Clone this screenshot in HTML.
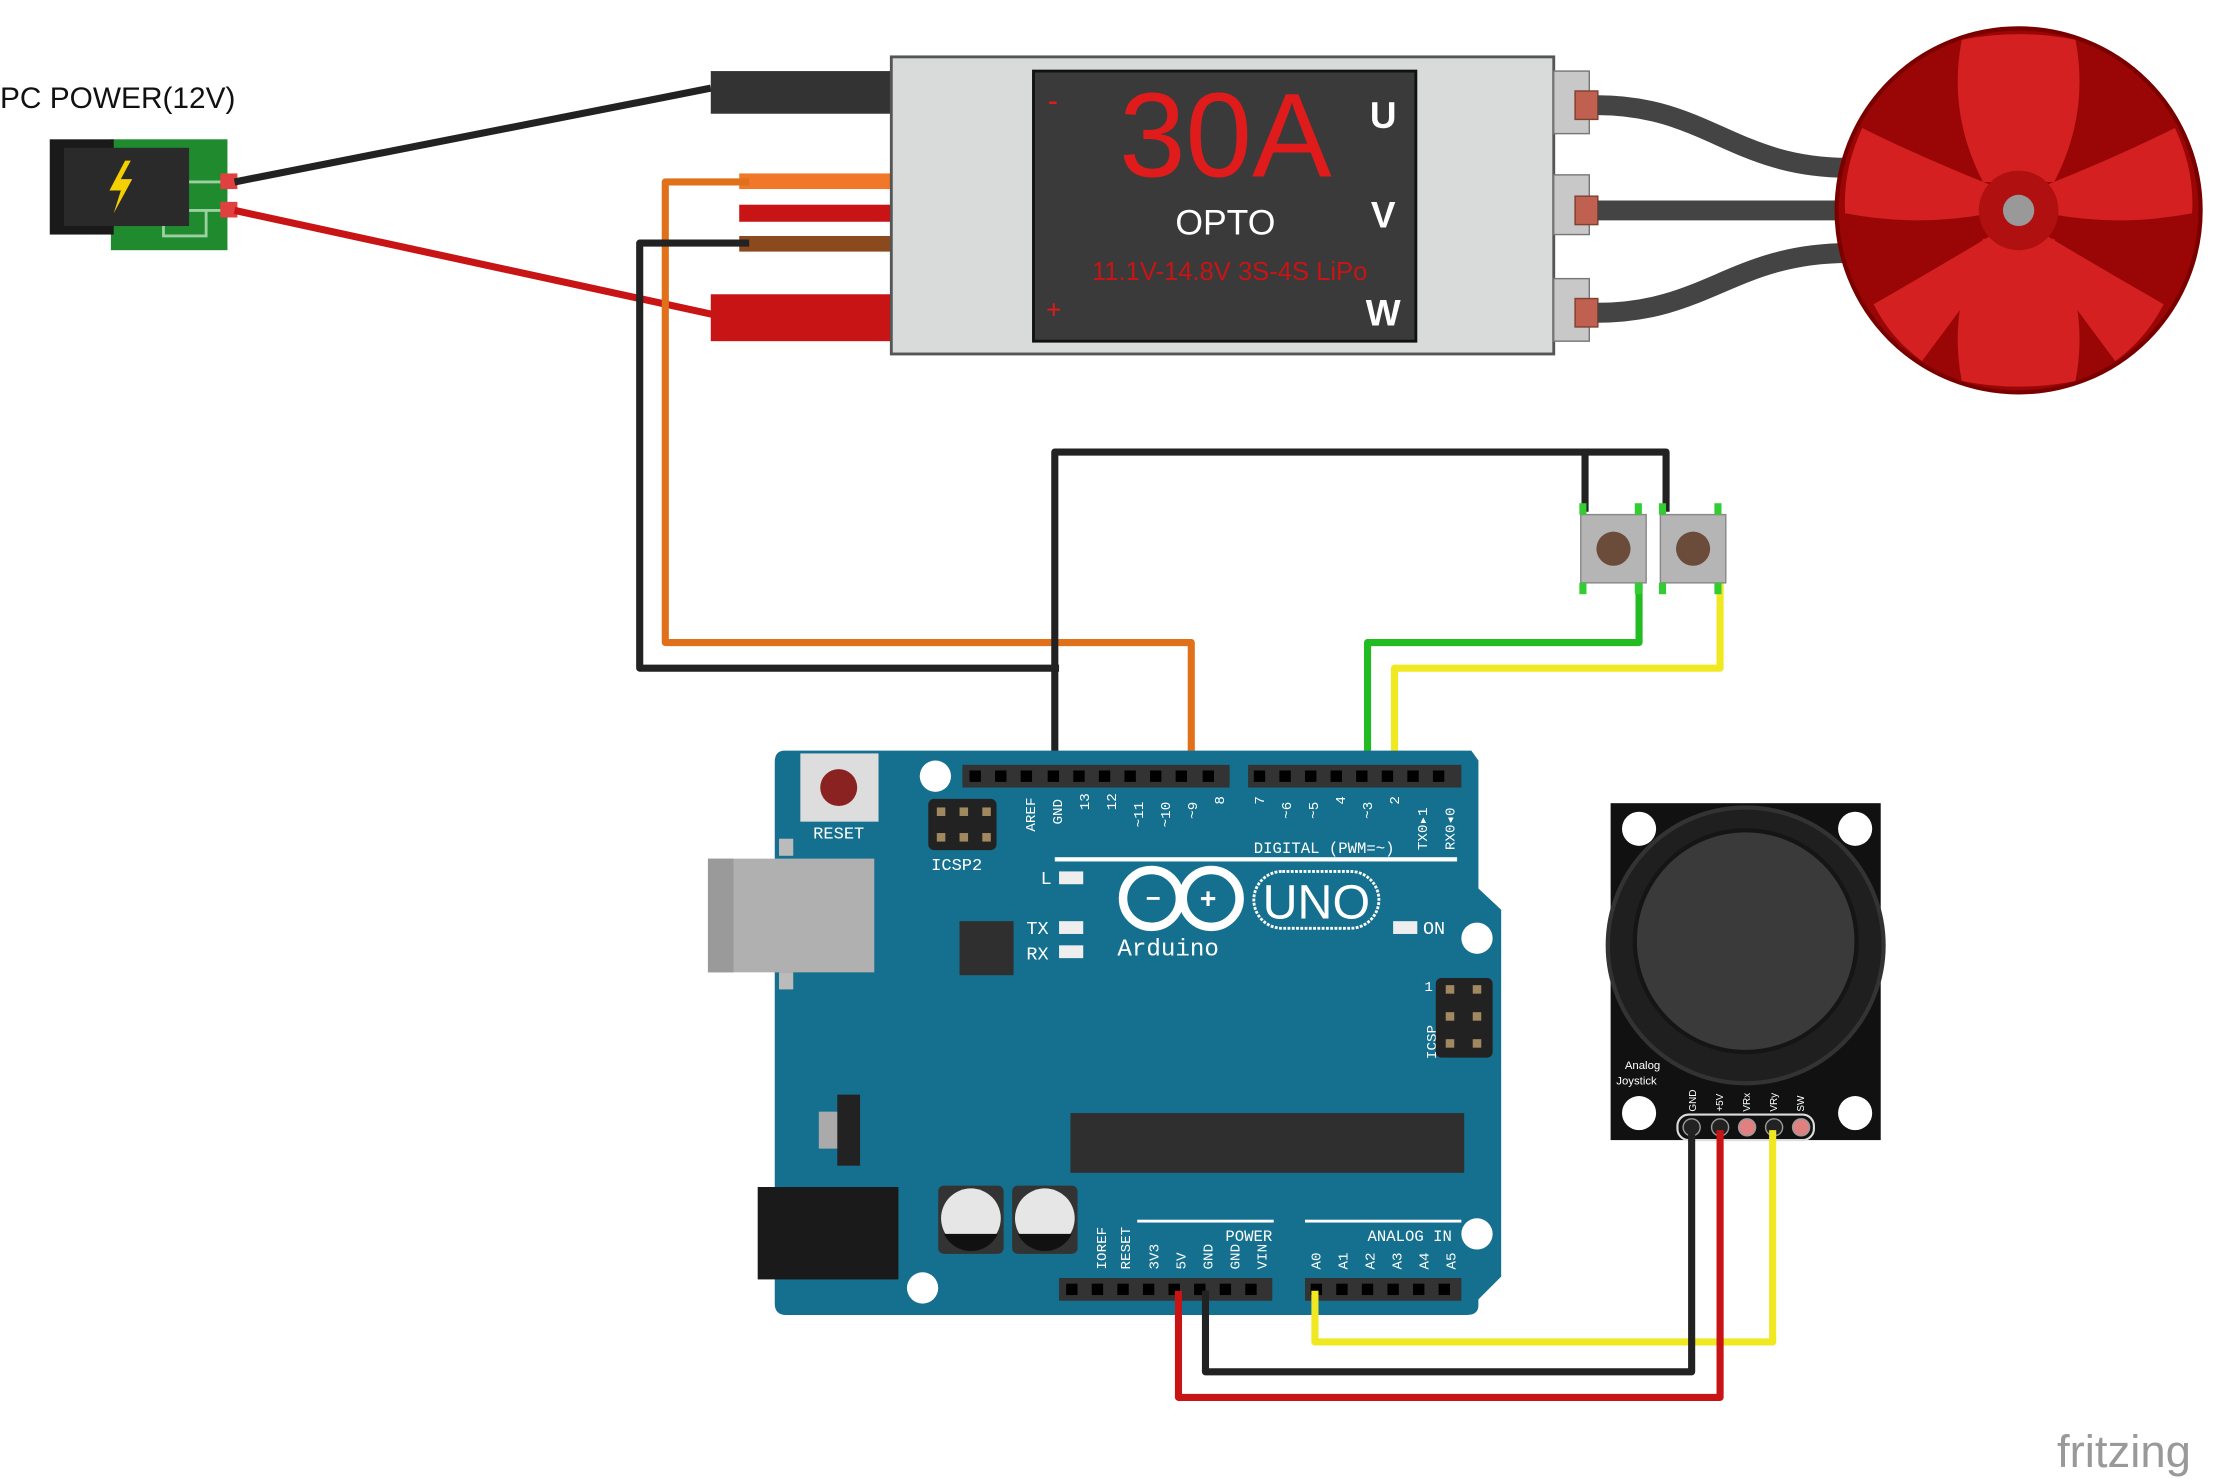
<!DOCTYPE html>
<html><head><meta charset="utf-8"><style>html,body{margin:0;padding:0;background:#fff}svg{display:block}</style></head><body>
<svg width="2229" height="1479" viewBox="0 0 1568 1040.4" preserveAspectRatio="none" xmlns="http://www.w3.org/2000/svg" font-family="Liberation Sans, sans-serif">
<rect width="1568" height="1041" fill="#fff"/>
<text x="0" y="76" font-size="21" fill="#111">PC POWER(12V)</text>
<rect x="78" y="98" width="82" height="78" fill="#1f8a2e"/>
<path d="M120 128h40M120 148h40M115 128v38h30v-18" stroke="#9bd0a0" stroke-width="2" fill="none"/>
<rect x="35" y="98" width="45" height="67" fill="#1a1a1a"/>
<rect x="45" y="104" width="88" height="55" fill="#2a2a2a"/>
<path d="M88 113 L77 134 L85 134 L80 150 L93 126 L85 126 L92 113Z" fill="#f5d000"/>
<rect x="155" y="122" width="12" height="11" fill="#e04040"/><rect x="155" y="142" width="12" height="11" fill="#e04040"/>
<line x1="165" y1="128" x2="500" y2="62" stroke="#222" stroke-width="5"/>
<line x1="165" y1="148" x2="505" y2="222" stroke="#c81414" stroke-width="5"/>
<rect x="500" y="50" width="128" height="30" fill="#333"/>
<rect x="500" y="207" width="128" height="33" fill="#c81414"/>
<rect x="520" y="122" width="108" height="11" fill="#f07828"/>
<rect x="520" y="144" width="108" height="12" fill="#c81414"/>
<rect x="520" y="166" width="108" height="11" fill="#8b4a1e"/>
<rect x="627" y="40" width="466" height="209" fill="#d8dbda" stroke="#555" stroke-width="2"/>
<rect x="727" y="50" width="269" height="190" fill="#3a3a3a" stroke="#111" stroke-width="2"/>
<text x="862" y="124" font-size="84" fill="#e01b1b" text-anchor="middle">30A</text>
<text x="862" y="165" font-size="25" fill="#fff" text-anchor="middle">OPTO</text>
<text x="865" y="197" font-size="18" fill="#c81414" text-anchor="middle">11.1V-14.8V 3S-4S LiPo</text>
<text x="737" y="78" font-size="22" fill="#e01b1b">-</text>
<text x="736" y="224" font-size="18" fill="#e01b1b">+</text>
<g font-size="26" fill="#fff" text-anchor="middle" font-weight="bold"><text x="973" y="90">U</text><text x="973" y="160">V</text><text x="973" y="229">W</text></g>
<g fill="#c8c8c8" stroke="#777"><rect x="1093" y="50" width="25" height="44"/><rect x="1093" y="123" width="25" height="42"/><rect x="1093" y="196" width="25" height="44"/></g>
<g fill="#c06050" stroke="#804030"><rect x="1108" y="64" width="16" height="20"/><rect x="1108" y="138" width="16" height="20"/><rect x="1108" y="210" width="16" height="20"/></g>
<g stroke="#444" stroke-width="14" fill="none"><path d="M1124 74 C1200 74 1220 118 1300 118"/><path d="M1124 148 H1300"/><path d="M1124 220 C1200 220 1220 178 1300 178"/></g>
<!-- motor -->
<circle cx="1420" cy="148" r="128" fill="#9a0606" stroke="#7a0000" stroke-width="3"/>
<g fill="#d42020">
<path d="M1395 128 Q1370 80 1380 28 Q1420 20 1460 28 Q1470 80 1445 128Z"/>
<path d="M1395 168 Q1370 216 1380 268 Q1420 276 1460 268 Q1470 216 1445 168Z"/>
<path d="M1400 130 Q1350 110 1310 90 Q1296 120 1298 150 Q1350 160 1400 150Z"/>
<path d="M1440 130 Q1490 110 1530 90 Q1544 120 1542 150 Q1490 160 1440 150Z"/>
<path d="M1400 166 Q1360 190 1318 214 Q1330 238 1352 254 Q1385 210 1410 175Z"/>
<path d="M1440 166 Q1480 190 1522 214 Q1510 238 1488 254 Q1455 210 1430 175Z"/>
</g>
<circle cx="1420" cy="148" r="28" fill="#b01010"/>
<circle cx="1420" cy="148" r="11" fill="#999"/>
<g fill="none" stroke-width="5" stroke-linejoin="round">
<path d="M527 128H468V452H838V545" stroke="#e0701a"/>
<path d="M527 171H450V470H745" stroke="#222"/>
<path d="M742 545V318H1172V360M1115 318V360" stroke="#222"/>
<path d="M1153 410V452H962V545" stroke="#22bb22"/>
<path d="M1210 410V470H981V545" stroke="#f0e820"/>
</g>
<g><rect x="1112" y="362" width="46" height="48" fill="#b5b5b5" stroke="#888"/><circle cx="1135" cy="386" r="12" fill="#6b4b3a"/>
<rect x="1168" y="362" width="46" height="48" fill="#b5b5b5" stroke="#888"/><circle cx="1191" cy="386" r="12" fill="#6b4b3a"/>
<g fill="#3c3"><rect x="1111" y="354" width="5" height="8"/><rect x="1150" y="354" width="5" height="8"/><rect x="1167" y="354" width="5" height="8"/><rect x="1206" y="354" width="5" height="8"/><rect x="1111" y="410" width="5" height="8"/><rect x="1150" y="410" width="5" height="8"/><rect x="1167" y="410" width="5" height="8"/><rect x="1206" y="410" width="5" height="8"/></g></g>
<!-- Arduino -->
<path d="M552 528H1035L1040 535V625L1056 640V898L1040 914V918Q1040 925 1032 925H553Q545 925 545 917V536Q545 528 552 528Z" fill="#15708f"/>
<rect x="498" y="604" width="117" height="80" fill="#b0b0b0"/><rect x="498" y="604" width="18" height="80" fill="#9a9a9a"/>
<rect x="548" y="590" width="10" height="12" fill="#bbb"/><rect x="548" y="684" width="10" height="12" fill="#bbb"/>
<rect x="563" y="530" width="55" height="48" fill="#ddd"/><circle cx="590" cy="554" r="13" fill="#8a2222"/>
<text x="590" y="590" font-size="12" fill="#fff" text-anchor="middle" font-family="Liberation Mono, monospace">RESET</text>
<circle cx="658" cy="546" r="11" fill="#fff"/><circle cx="1039" cy="660" r="11" fill="#fff"/><circle cx="1039" cy="868" r="11" fill="#fff"/><circle cx="649" cy="906" r="11" fill="#fff"/>
<rect x="677" y="538" width="188" height="16" fill="#333"/><rect x="878" y="538" width="150" height="16" fill="#333"/>
<rect x="745" y="899" width="150" height="16" fill="#333"/><rect x="918" y="899" width="110" height="16" fill="#333"/>
<g fill="#000">
<rect x="682" y="542" width="8" height="8"/><rect x="700" y="542" width="8" height="8"/><rect x="718" y="542" width="8" height="8"/><rect x="737" y="542" width="8" height="8"/><rect x="755" y="542" width="8" height="8"/><rect x="773" y="542" width="8" height="8"/><rect x="791" y="542" width="8" height="8"/><rect x="809" y="542" width="8" height="8"/><rect x="827" y="542" width="8" height="8"/><rect x="846" y="542" width="8" height="8"/>
<rect x="882" y="542" width="8" height="8"/><rect x="900" y="542" width="8" height="8"/><rect x="918" y="542" width="8" height="8"/><rect x="936" y="542" width="8" height="8"/><rect x="954" y="542" width="8" height="8"/><rect x="972" y="542" width="8" height="8"/><rect x="990" y="542" width="8" height="8"/><rect x="1008" y="542" width="8" height="8"/>
<rect x="750" y="903" width="8" height="8"/><rect x="768" y="903" width="8" height="8"/><rect x="786" y="903" width="8" height="8"/><rect x="804" y="903" width="8" height="8"/><rect x="822" y="903" width="8" height="8"/><rect x="840" y="903" width="8" height="8"/><rect x="858" y="903" width="8" height="8"/><rect x="876" y="903" width="8" height="8"/>
<rect x="922" y="903" width="8" height="8"/><rect x="940" y="903" width="8" height="8"/><rect x="958" y="903" width="8" height="8"/><rect x="976" y="903" width="8" height="8"/><rect x="994" y="903" width="8" height="8"/><rect x="1012" y="903" width="8" height="8"/>
</g>
<g font-size="10" fill="#fff" font-family="Liberation Mono, monospace">
<text transform="translate(728,585) rotate(-90)">AREF</text><text transform="translate(747,580) rotate(-90)">GND</text><text transform="translate(766,570) rotate(-90)">13</text><text transform="translate(785,570) rotate(-90)">12</text><text transform="translate(804,582) rotate(-90)">~11</text><text transform="translate(823,582) rotate(-90)">~10</text><text transform="translate(842,576) rotate(-90)">~9</text><text transform="translate(861,566) rotate(-90)">8</text>
<text transform="translate(889,566) rotate(-90)">7</text><text transform="translate(908,576) rotate(-90)">~6</text><text transform="translate(927,576) rotate(-90)">~5</text><text transform="translate(946,566) rotate(-90)">4</text><text transform="translate(965,576) rotate(-90)">~3</text><text transform="translate(984,566) rotate(-90)">2</text><text transform="translate(1004,598) rotate(-90)">TX0▸1</text><text transform="translate(1023,598) rotate(-90)">RX0◂0</text>
<text transform="translate(778,893) rotate(-90)">IOREF</text><text transform="translate(795,893) rotate(-90)">RESET</text><text transform="translate(815,893) rotate(-90)">3V3</text><text transform="translate(834,893) rotate(-90)">5V</text><text transform="translate(853,893) rotate(-90)">GND</text><text transform="translate(872,893) rotate(-90)">GND</text><text transform="translate(891,893) rotate(-90)">VIN</text>
<text transform="translate(929,893) rotate(-90)">A0</text><text transform="translate(948,893) rotate(-90)">A1</text><text transform="translate(967,893) rotate(-90)">A2</text><text transform="translate(986,893) rotate(-90)">A3</text><text transform="translate(1005,893) rotate(-90)">A4</text><text transform="translate(1024,893) rotate(-90)">A5</text>
<text transform="translate(1010,745) rotate(-90)">ICSP</text><text x="1002" y="697">1</text>
</g>
<rect x="653" y="562" width="48" height="36" rx="4" fill="#222"/>
<g fill="#a08860"><rect x="659" y="568" width="6" height="6"/><rect x="675" y="568" width="6" height="6"/><rect x="691" y="568" width="6" height="6"/><rect x="659" y="586" width="6" height="6"/><rect x="675" y="586" width="6" height="6"/><rect x="691" y="586" width="6" height="6"/></g>
<text x="655" y="612" font-size="12" fill="#fff" font-family="Liberation Mono, monospace">ICSP2</text>
<rect x="1010" y="688" width="40" height="56" rx="4" fill="#222"/>
<g fill="#a08860"><rect x="1017" y="693" width="6" height="6"/><rect x="1036" y="693" width="6" height="6"/><rect x="1017" y="712" width="6" height="6"/><rect x="1036" y="712" width="6" height="6"/><rect x="1017" y="731" width="6" height="6"/><rect x="1036" y="731" width="6" height="6"/></g>
<rect x="675" y="648" width="38" height="38" fill="#2f2f2f"/>
<rect x="753" y="783" width="277" height="42" fill="#2f2f2f"/>
<rect x="576" y="782" width="14" height="26" fill="#aaa"/><rect x="589" y="770" width="16" height="50" fill="#222"/>
<rect x="533" y="835" width="99" height="65" fill="#1a1a1a"/>
<rect x="660" y="834" width="46" height="48" rx="4" fill="#333"/><rect x="712" y="834" width="46" height="48" rx="4" fill="#333"/>
<circle cx="683" cy="857" r="21" fill="#e6e6e6"/><circle cx="735" cy="857" r="21" fill="#e6e6e6"/>
<path d="M664 868h38a21 21 0 0 1-38 0Z" fill="#111"/><path d="M716 868h38a21 21 0 0 1-38 0Z" fill="#111"/>
<rect x="742" y="603" width="283" height="3" fill="#fff"/>
<text x="882" y="600" font-size="11" fill="#fff" font-family="Liberation Mono, monospace">DIGITAL (PWM=~)</text>
<rect x="745" y="613" width="17" height="9" fill="#eee"/><rect x="745" y="648" width="17" height="9" fill="#eee"/><rect x="745" y="665" width="17" height="9" fill="#eee"/><rect x="980" y="648" width="17" height="9" fill="#eee"/>
<g font-size="13" fill="#fff" font-family="Liberation Mono, monospace"><text x="732" y="622">L</text><text x="722" y="657">TX</text><text x="722" y="675">RX</text><text x="1001" y="657">ON</text></g>
<g fill="none" stroke="#fff" stroke-width="6"><circle cx="810" cy="632" r="20"/><circle cx="852" cy="632" r="20"/></g>
<text x="806" y="638" font-size="18" fill="#fff" font-weight="bold">−</text><text x="844" y="639" font-size="20" fill="#fff" font-weight="bold">+</text>
<rect x="882" y="613" width="88" height="40" rx="20" fill="none" stroke="#fff" stroke-width="2" stroke-dasharray="2 1"/>
<text x="926" y="646" font-size="34" fill="#fff" text-anchor="middle">UNO</text>
<text x="786" y="672" font-size="17" fill="#fff" font-family="Liberation Mono, monospace">Arduino</text>
<rect x="800" y="858" width="96" height="2" fill="#fff"/><rect x="918" y="858" width="110" height="2" fill="#fff"/>
<text x="862" y="873" font-size="11" fill="#fff" font-family="Liberation Mono, monospace">POWER</text>
<text x="962" y="873" font-size="11" fill="#fff" font-family="Liberation Mono, monospace">ANALOG IN</text>
<!-- joystick -->
<rect x="1133" y="565" width="190" height="237" fill="#111"/>
<g fill="#fff"><circle cx="1153" cy="583" r="12"/><circle cx="1305" cy="583" r="12"/><circle cx="1153" cy="783" r="12"/><circle cx="1305" cy="783" r="12"/></g>
<circle cx="1228" cy="665" r="97" fill="#1f1f1f" stroke="#333" stroke-width="3"/>
<circle cx="1228" cy="662" r="78" fill="#3a3a3a" stroke="#151515" stroke-width="3"/>
<text x="1143" y="752" font-size="8" fill="#fff">Analog</text><text x="1137" y="763" font-size="8" fill="#fff">Joystick</text>
<g font-size="7" fill="#fff"><text transform="translate(1193,782) rotate(-90)">GND</text><text transform="translate(1212,782) rotate(-90)">+5V</text><text transform="translate(1231,782) rotate(-90)">VRx</text><text transform="translate(1250,782) rotate(-90)">VRy</text><text transform="translate(1269,782) rotate(-90)">SW</text></g>
<rect x="1180" y="784" width="96" height="18" rx="8" fill="#111" stroke="#ddd" stroke-width="1.5"/>
<g fill="#222" stroke="#999"><circle cx="1190" cy="793" r="6"/><circle cx="1210" cy="793" r="6"/><circle cx="1229" cy="793" r="6" fill="#e08080"/><circle cx="1248" cy="793" r="6"/><circle cx="1267" cy="793" r="6" fill="#e08080"/></g>
<g fill="none" stroke-width="5" stroke-linejoin="round">
<path d="M925 908V944H1247V795" stroke="#f0e820"/>
<path d="M848 908V965H1190V795" stroke="#222"/>
<path d="M829 908V983H1210V795" stroke="#c81414"/>
</g>
<text x="1447" y="1032" font-size="32" fill="#999">fritzing</text>
</svg>
</body></html>
